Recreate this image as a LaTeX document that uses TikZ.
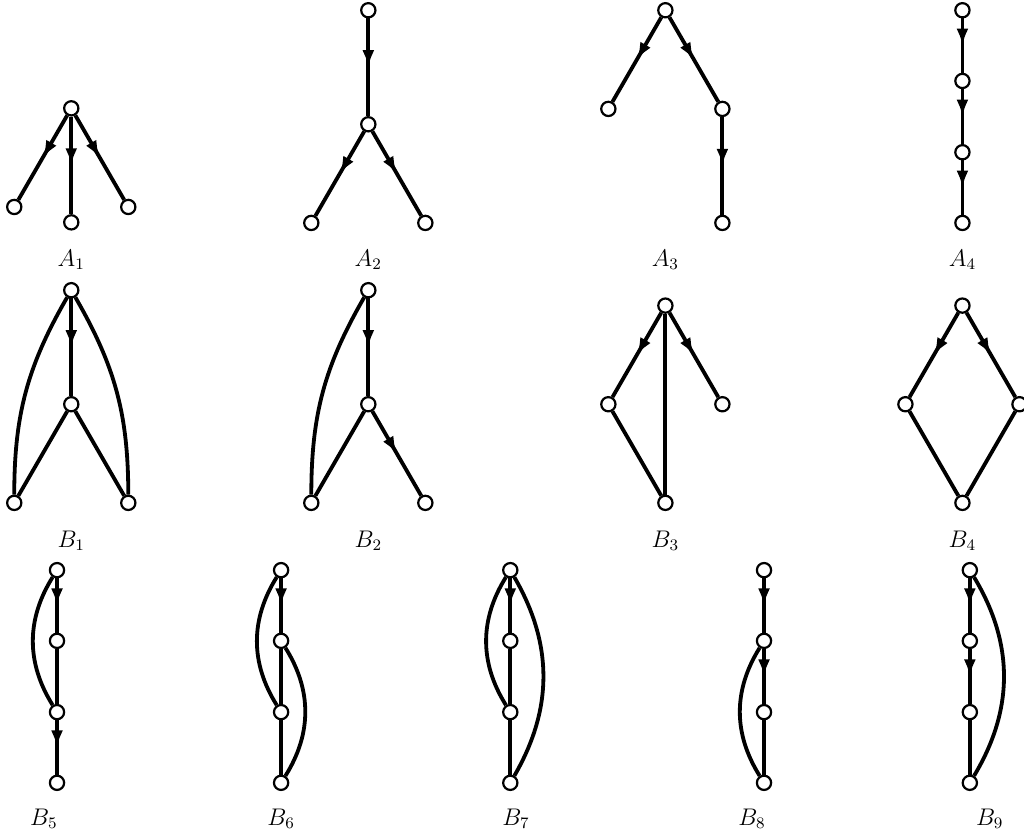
\documentclass[tikz,border=0pt]{standalone}
\usepackage{tikz}
\usetikzlibrary{arrows.meta,decorations.markings}

\begin{document}
\begin{tikzpicture}[
vert/.style={draw,circle,fill=white,line width=1.1pt,minimum size=2.5mm,inner sep=0pt},
plain/.style={line width=1.9pt},
dirc/.style={plain,postaction={decorate},
 decoration={markings,mark=at position .5 with {\arrow{Latex[length=8.5pt,width=6pt]}}}},
lbl/.style={anchor=base,font=\large}]
\useasboundingbox (0,0) rectangle (17.96,14.70);
% first row
\node[vert] (a1t) at (1.25,12.80) {};
\node[vert] (a1l) at (.25,11.07) {};
\node[vert] (a1m) at (1.25,10.80) {};
\node[vert] (a1r) at (2.25,11.07) {};
\draw[dirc] (a1t)--(a1l);\draw[dirc] (a1t)--(a1m);\draw[dirc] (a1t)--(a1r);
\node[vert] (a2t) at (6.46,14.52) {};
\node[vert] (a2m) at (6.46,12.52) {};
\node[vert] (a2l) at (5.46,10.79) {};
\node[vert] (a2r) at (7.46,10.79) {};
\draw[dirc] (a2t)--(a2m);\draw[dirc] (a2m)--(a2l);\draw[dirc] (a2m)--(a2r);
\node[vert] (a3t) at (11.67,14.52) {};
\node[vert] (a3l) at (10.67,12.79) {};
\node[vert] (a3r) at (12.67,12.79) {};
\node[vert] (a3b) at (12.67,10.79) {};
\draw[dirc] (a3t)--(a3l);\draw[dirc] (a3t)--(a3r);\draw[dirc] (a3r)--(a3b);
\node[vert] (a4a) at (16.88,14.52) {};
\node[vert] (a4b) at (16.88,13.28) {};
\node[vert] (a4c) at (16.88,12.03) {};
\node[vert] (a4d) at (16.88,10.79) {};
\draw[dirc] (a4a)--(a4b);\draw[dirc] (a4b)--(a4c);\draw[dirc] (a4c)--(a4d);
\node[lbl] (la1) at (1.25,10.03) {$A_1$};
\node[lbl] (la2) at (6.46,10.03) {$A_2$};
\node[lbl] (la3) at (11.67,10.03) {$A_3$};
\node[lbl] (la4) at (16.88,10.03) {$A_4$};
% second row
\node[vert] (b1t) at (1.25,9.61) {};
\node[vert] (b1m) at (1.25,7.61) {};
\node[vert] (b1l) at (.25,5.88) {};
\node[vert] (b1r) at (2.25,5.88) {};
\draw[dirc] (b1t)--(b1m);\draw[plain] (b1m)--(b1l);\draw[plain] (b1m)--(b1r);
\draw[plain] (b1t) to[out=-120,in=90] (b1l);\draw[plain] (b1t) to[out=-60,in=90] (b1r);
\node[vert] (b2t) at (6.46,9.61) {};
\node[vert] (b2m) at (6.46,7.61) {};
\node[vert] (b2l) at (5.46,5.88) {};
\node[vert] (b2r) at (7.46,5.88) {};
\draw[dirc] (b2t)--(b2m);\draw[plain] (b2m)--(b2l);\draw[dirc] (b2m)--(b2r);
\draw[plain] (b2t) to[out=-120,in=90] (b2l);
\node[vert] (b3t) at (11.67,9.34) {};
\node[vert] (b3l) at (10.67,7.61) {};
\node[vert] (b3r) at (12.67,7.61) {};
\node[vert] (b3b) at (11.67,5.88) {};
\draw[dirc] (b3t)--(b3l);\draw[dirc] (b3t)--(b3r);
\draw[plain] (b3t)--(b3b);\draw[plain] (b3l)--(b3b);
\node[vert] (b4t) at (16.88,9.34) {};
\node[vert] (b4l) at (15.88,7.61) {};
\node[vert] (b4r) at (17.88,7.61) {};
\node[vert] (b4b) at (16.88,5.88) {};
\draw[dirc] (b4t)--(b4l);\draw[dirc] (b4t)--(b4r);
\draw[plain] (b4l)--(b4b);\draw[plain] (b4r)--(b4b);
\node[lbl] (lb1) at (1.25,5.10) {$B_1$};
\node[lbl] (lb2) at (6.46,5.10) {$B_2$};
\node[lbl] (lb3) at (11.67,5.10) {$B_3$};
\node[lbl] (lb4) at (16.88,5.10) {$B_4$};
% third row
\node[vert] (b5a) at (1.00,4.70) {};
\node[vert] (b5b) at (1.00,3.46) {};
\node[vert] (b5c) at (1.00,2.21) {};
\node[vert] (b5d) at (1.00,.97) {};
\draw[dirc] (b5a)--(b5b);\draw[plain] (b5b)--(b5c);\draw[dirc] (b5c)--(b5d);
\draw[plain] (b5a) to[bend right=32] (b5c);
\node[vert] (b6a) at (4.93,4.70) {};
\node[vert] (b6b) at (4.93,3.46) {};
\node[vert] (b6c) at (4.93,2.21) {};
\node[vert] (b6d) at (4.93,.97) {};
\draw[dirc] (b6a)--(b6b);\draw[plain] (b6b)--(b6c);\draw[plain] (b6c)--(b6d);
\draw[plain] (b6a) to[bend right=32] (b6c);\draw[plain] (b6b) to[bend left=32] (b6d);
\node[vert] (b7a) at (8.95,4.70) {};
\node[vert] (b7b) at (8.95,3.46) {};
\node[vert] (b7c) at (8.95,2.21) {};
\node[vert] (b7d) at (8.95,.97) {};
\draw[dirc] (b7a)--(b7b);\draw[plain] (b7b)--(b7c);\draw[plain] (b7c)--(b7d);
\draw[plain] (b7a) to[bend right=32] (b7c);\draw[plain] (b7a) to[bend left=30] (b7d);
\node[vert] (b8a) at (13.40,4.70) {};
\node[vert] (b8b) at (13.40,3.46) {};
\node[vert] (b8c) at (13.40,2.21) {};
\node[vert] (b8d) at (13.40,.97) {};
\draw[dirc] (b8a)--(b8b);\draw[dirc] (b8b)--(b8c);\draw[plain] (b8c)--(b8d);
\draw[plain] (b8b) to[bend right=32] (b8d);
\node[vert] (b9a) at (17.01,4.70) {};
\node[vert] (b9b) at (17.01,3.46) {};
\node[vert] (b9c) at (17.01,2.21) {};
\node[vert] (b9d) at (17.01,.97) {};
\draw[dirc] (b9a)--(b9b);\draw[dirc] (b9b)--(b9c);\draw[plain] (b9c)--(b9d);
\draw[plain] (b9a) to[bend left=31] (b9d);
\node[lbl] (lb5) at (.77,.23) {$B_5$};
\node[lbl] (lb6) at (4.93,.23) {$B_6$};
\node[lbl] (lb7) at (9.05,.23) {$B_7$};
\node[lbl] (lb8) at (13.19,.23) {$B_8$};
\node[lbl] (lb9) at (17.36,.23) {$B_9$};
\end{tikzpicture}
\end{document}
